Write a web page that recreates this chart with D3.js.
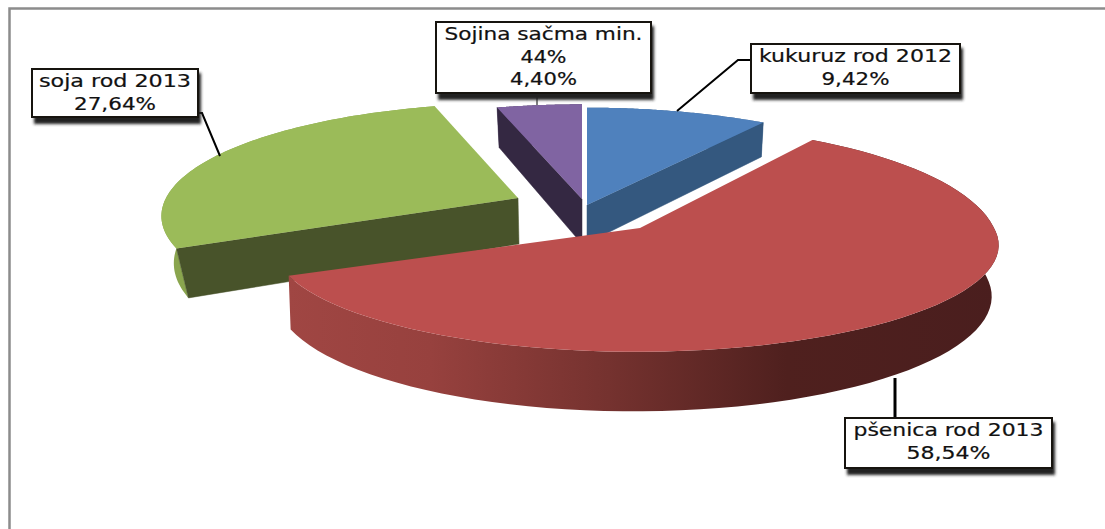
<!DOCTYPE html>
<html><head><meta charset="utf-8">
<script src="https://cdn.jsdelivr.net/npm/d3@7/dist/d3.min.js"></script>
<style>html,body{margin:0;padding:0;background:#fff}svg{display:block}</style>
</head><body><svg id="c" width="1105" height="529"></svg>
<script>
const categories = ["kukuruz rod 2012","pšenica rod 2013","soja rod 2013","Sojina sačma min. 44%"];
const values = [9.42,58.54,27.64,4.40];
const labelLines = [["kukuruz rod 2012","9,42%"],["pšenica rod 2013","58,54%"],["soja rod 2013","27,64%"],["Sojina sačma min.","44%","4,40%"]];
const topColors = ["#4f81bd","#bc4f4e","#9bbb59","#8064a2"];
const wallColors = ["#34587f","#7a3633","#48532a","#342842"];
const rimColors = ["#3d6590","#a04643","#8aa54e","#4a3a60"];
const apexes = [[587,205],[640,228],[518,198],[582,199]];
const arcShiftX = [0,-4,0,0];
const radii = [350,358,352,350];
const depths = [38,50,46,45];
const perspectives = [.13,.16,.16,.13];
const tiltsBack = [110,120,110,107];
const tiltsFront = [110,104,110,107];
const vanishX = [587,446,549,582];
const converge = [.011,.0126,.032,.0235];
const boxes = [[751,44,209,49],[845,418,207,50],[32,69,166,48],[436,22,215,71]];
const textWidths = [[193,68],[190,84],[152,82],[198,46,67]];
const leaders = [[[677,111],[738,60],[751,60]],[[895,378],[895,418]],[[220,156],[202,113],[198,113]],[[537,105],[537,93]]];

const svg = d3.select("#c");
const defs = svg.append("defs");
const f = defs.append("filter").attr("id","sh").attr("x","-10%").attr("y","-10%").attr("width","125%").attr("height","140%");
f.append("feGaussianBlur").attr("stdDeviation",1.6);
const grad = defs.append("linearGradient").attr("id","redrim").attr("gradientUnits","userSpaceOnUse")
  .attr("x1",288).attr("x2",1000).attr("y1",0).attr("y2",0);
[[0,"#a04643"],[0.2,"#97413e"],[0.45,"#75322f"],[0.7,"#4f201e"],[1,"#4a1e1e"]].forEach(([o,c])=>grad.append("stop").attr("offset",o).attr("stop-color",c));

svg.append("path").attr("d","M9.5 529V8.5H1105").attr("fill","none").attr("stroke","#8c8c8c").attr("stroke-width",2.5);

const arcs = d3.pie().sort(null).value(d=>d)(values);
function proj(i, a, rFrac, down){
  const X = Math.sin(a)*rFrac, Y = -Math.cos(a)*rFrac;
  const s = 1/(1-Y*perspectives[i]);
  const tilt = Y<0 ? tiltsBack[i] : tiltsFront[i];
  let x = apexes[i][0] + arcShiftX[i]*rFrac + X*radii[i]*s, y = apexes[i][1] + Y*tilt*s;
  if(down){ y += depths[i]*s*down; x += (vanishX[i]-x)*converge[i]; }
  return [x,y];
}
const line = d3.line();
const steps = d3.range(0,1.0001,1/80);
const arcPts = (i,a0,a1,down)=>steps.map(t=>proj(i,a0+(a1-a0)*t,1,down));

const order = [2,3,0,1];
const g = svg.append("g");
order.forEach(i=>{
  const d = arcs[i], a0=d.startAngle, a1=d.endAngle;
  const rimFill = i===1 ? "url(#redrim)" : rimColors[i];
  const wall = (a)=>{
    const p = proj(i,a,1,0), q = proj(i,a,1,1), c = proj(i,0,0,0), e = proj(i,0,0,1);
    g.append("path").attr("d",line([p,q,e,c])+"Z").attr("fill",wallColors[i]).attr("stroke",wallColors[i]).attr("stroke-width",.5);
  };
  g.append("path").attr("d",line(arcPts(i,a0,a1,0).concat(arcPts(i,a0,a1,1).reverse()))+"Z").attr("fill",rimFill);
  if(i===0) wall(a1);
  if(i===2) wall(a0);
  if(i===3) wall(a0);
  g.append("path").attr("d",line([proj(i,0,0,0)].concat(arcPts(i,a0,a1,0)))+"Z").attr("fill",topColors[i]);
});

leaders.forEach((l,i)=>svg.append("path").attr("d",line(l)).attr("fill","none").attr("stroke","#000").attr("stroke-width",i===1?3:(i===3?1:2)));

labelLines.forEach((lines,i)=>{
  const [x,y,w,h] = boxes[i];
  svg.append("rect").attr("x",x+2).attr("y",y+4).attr("width",w+1).attr("height",h+3).attr("fill","#222").attr("filter","url(#sh)");
  svg.append("rect").attr("x",x).attr("y",y).attr("width",w).attr("height",h).attr("fill","#fff").attr("stroke","#17140f").attr("stroke-width",2);
  lines.forEach((t,j)=>{
    svg.append("text").attr("x",x+w/2).attr("y",y+18+j*22.5).attr("text-anchor","middle")
      .attr("font-family","'DejaVu Sans',sans-serif").attr("font-size",17).attr("fill","#111").attr("stroke","#111").attr("stroke-width",.2)
      .attr("textLength",textWidths[i][j]).attr("lengthAdjust","spacingAndGlyphs").text(t);
  });
});
</script></body></html>
